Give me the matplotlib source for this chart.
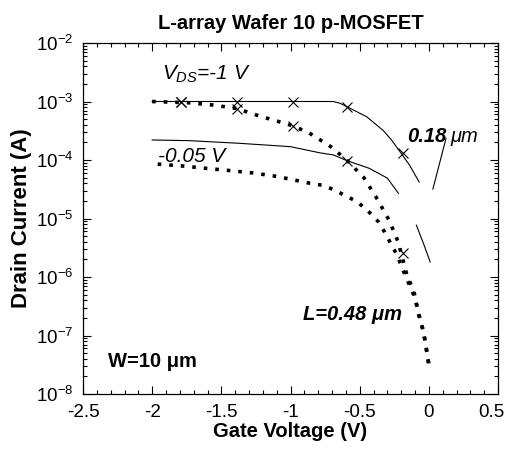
import matplotlib
matplotlib.use('Agg')
import matplotlib.pyplot as plt
import matplotlib.transforms as mtransforms
import numpy as np
from matplotlib.ticker import MultipleLocator, LogLocator, LogFormatterSciNotation, NullFormatter

plt.rcParams['font.family'] = ['Liberation Sans', 'DejaVu Sans']
plt.rcParams['axes.unicode_minus'] = False
plt.rcParams['mathtext.fontset'] = 'custom'
plt.rcParams['mathtext.rm'] = 'Liberation Sans'
plt.rcParams['mathtext.it'] = 'Liberation Sans:italic'

# -----------------------------------------------------------------------------
# data (gate voltage in V, drain current in A)
# -----------------------------------------------------------------------------
# L = 0.18 um, VDS = -1 V (thin solid)
vg_a = [-2.0, -1.79, -1.39, -0.98, -0.69, -0.64, -0.59, -0.45, -0.33, -0.27, -0.20, -0.14, -0.07]
id_a = [1.0e-3, 1.0e-3, 1.0e-3, 1.0e-3, 1.0e-3, 9.3e-4, 8.1e-4, 5.5e-4, 3.2e-4, 2.2e-4, 1.3e-4,
        8.2e-5, 4.2e-5]

# L = 0.18 um, VDS = -0.05 V (thin solid, gap in the scan)
vg_b = [-2.0, -1.73, -1.37, -1.0, -0.79, -0.69, -0.59, -0.43, -0.30, -0.22, np.nan, -0.09, -0.04, 0.01]
id_b = [2.2e-4, 2.14e-4, 1.93e-4, 1.69e-4, 1.33e-4, 1.22e-4, 9.7e-5, 7.2e-5, 4.9e-5, 2.7e-5, np.nan,
        7.7e-6, 3.8e-6, 1.8e-6]

# L = 0.48 um, VDS = -1 V (heavy dotted)
vg_c = [-2.0, -1.73, -1.56, -1.39, -1.22, -1.05, -0.98, -0.87, -0.71, -0.59, -0.47, -0.37,
        -0.285, -0.22, -0.155, -0.11, -0.08, -0.04, -0.02, 0.0]
id_c = [1.0e-3, 9.5e-4, 8.7e-4, 7.6e-4, 5.6e-4, 4.3e-4, 3.8e-4, 2.95e-4, 1.7e-4, 9.8e-5, 5.0e-5, 2.1e-5,
        9.1e-6, 3.9e-6, 1.0e-6, 6.0e-7, 2.75e-7, 1.2e-7, 6.3e-8, 3.2e-8]

# L = 0.48 um, VDS = -0.05 V (heavy dotted)
vg_d = [-1.96, -1.78, -1.61, -1.44, -1.27, -1.09, -0.86, -0.77, -0.685, -0.60, -0.52, -0.44,
        -0.365, -0.31, -0.27, -0.23, -0.20, -0.165, -0.135, -0.10, -0.065, -0.04, -0.02, 0.0]
id_d = [8.5e-5, 7.9e-5, 7.2e-5, 6.6e-5, 6.0e-5, 5.2e-5, 4.0e-5, 3.7e-5, 3.1e-5, 2.43e-5, 1.95e-5, 1.35e-5,
        8.8e-6, 5.4e-6, 3.5e-6, 2.4e-6, 1.55e-6, 1.0e-6, 6.8e-7, 4.4e-7, 1.84e-7, 1.2e-7, 6.3e-8, 3.2e-8]

# cross markers on the VDS = -1 V curves
vg_x = [-1.79, -1.39, -0.98, -0.59, -0.19]
id_xa = [1.0e-3, 1.0e-3, 1.0e-3, 8.1e-4, 1.3e-4]
id_xc = [1.0e-3, 7.4e-4, 3.75e-4, 9.8e-5, 2.6e-6]

x_ticks = [-2.5, -2.0, -1.5, -1.0, -0.5, 0.0, 0.5]
x_ticklabels = ['-2.5', '-2', '-1.5', '-1', '-0.5', '0', '0.5']

# -----------------------------------------------------------------------------
# figure
# -----------------------------------------------------------------------------
fig = plt.figure(figsize=(5.05, 4.5), dpi=100)
ax = fig.add_axes([83 / 505, 56 / 450, 415 / 505, 351 / 450])

ax.plot(vg_a, id_a, color='black', lw=0.8)
ax.plot(vg_b, id_b, color='black', lw=0.8)
ax.plot(vg_c, id_c, color='black', lw=2.6, linestyle=(0, (1, 2.2)), dash_capstyle='butt')
ax.plot(vg_d, id_d, color='black', lw=2.6, linestyle=(0, (1, 2.2)), dash_capstyle='butt')
ax.plot(vg_x, id_xa, ls='none', marker='x', ms=7, mew=0.8, color='black')
ax.plot(vg_x, id_xc, ls='none', marker='x', ms=7, mew=0.8, color='black')

ax.set_yscale('log')
ax.set_xlim(-2.5, 0.5)
ax.set_ylim(1e-8, 1e-2)

ax.set_xticks(x_ticks)
ax.set_xticklabels(x_ticklabels)
ax.xaxis.set_minor_locator(MultipleLocator(0.1))
ax.yaxis.set_major_locator(LogLocator(base=10, numticks=10))
ax.yaxis.set_minor_locator(LogLocator(base=10, subs=np.arange(2, 10), numticks=10))
ax.yaxis.set_major_formatter(LogFormatterSciNotation())
ax.yaxis.set_minor_formatter(NullFormatter())

ax.tick_params(which='both', direction='in', top=True, right=True, width=0.8)
ax.tick_params(which='major', length=6, labelsize=13.5, pad=7)
ax.tick_params(which='minor', length=3)
for s in ax.spines.values():
    s.set_linewidth(0.9)

# pull the last x tick label inside the figure like the reference
last = ax.xaxis.get_major_ticks()[-1].label1
last.set_transform(last.get_transform()
                   + mtransforms.ScaledTranslation(-7 / 100, 0, fig.dpi_scale_trans))

ax.set_xlabel('Gate Voltage (V)', fontsize=14.5, fontweight='bold', labelpad=1)
ax.set_ylabel('Drain Current (A)', fontsize=16, fontweight='bold', labelpad=3)
ax.set_title('L-array Wafer 10 p-MOSFET', fontsize=14.5, fontweight='bold', pad=10)

# annotations
ax.text(-1.93, 2.33e-3, r'$V_{DS}$=-1 V', fontsize=15, style='italic', va='baseline')
ax.text(-1.96, 9.2e-5, '-0.05 V', fontsize=15, style='italic', va='baseline')
ax.text(-0.16, 2.03e-4, '0.18', fontsize=14.5, style='italic', fontweight='bold', va='baseline')
ax.text(0.155, 2.03e-4, 'μm', fontsize=14.5, style='italic', va='baseline')
ax.annotate('', xy=(0.029, 3.16e-5), xytext=(0.125, 2.38e-4),
            arrowprops=dict(arrowstyle='-', lw=0.8, color='black', shrinkA=0, shrinkB=0))
ax.text(-0.91, 1.84e-7, 'L=0.48 μm', fontsize=14.5, style='italic', fontweight='bold', va='baseline')
ax.text(-2.32, 2.9e-8, 'W=10 μm', fontsize=14.5, fontweight='bold', va='baseline')

fig.savefig('out.png', dpi=100)
